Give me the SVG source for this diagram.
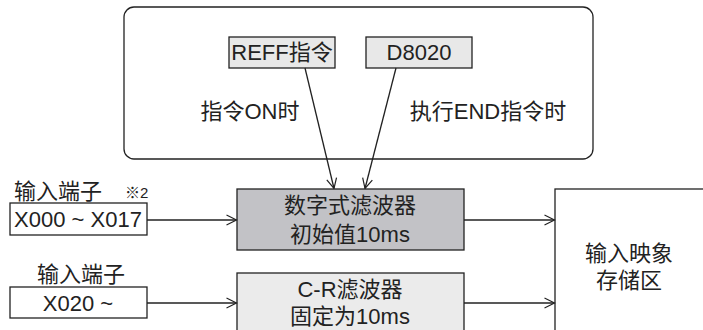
<svg xmlns="http://www.w3.org/2000/svg" width="703" height="330" viewBox="0 0 703 330">
<defs>
<marker id="arr" viewBox="0 0 12 12" refX="11" refY="6" markerWidth="12" markerHeight="12" markerUnits="userSpaceOnUse" orient="auto">
<path d="M1,1 L11,6 L1,11" fill="none" stroke="#222" stroke-width="1.2"/>
</marker>
<style>
.t{font-family:"Liberation Sans","Noto Sans CJK SC",sans-serif;font-size:22px;fill:#222;}
.s{font-family:"Liberation Sans","Noto Sans CJK SC",sans-serif;font-size:15px;fill:#222;}
.b{stroke:#222;stroke-width:1.3;}
.c{stroke:#222;stroke-width:1.3;fill:none;}
</style>
</defs>
<rect width="703" height="330" fill="#fff"/>
<g id="condition-panel">
<rect x="124" y="7" width="469" height="152" rx="10" fill="#fff" class="b"/>
<text class="t" x="250" y="119" text-anchor="middle">指令ON时</text>
<text class="t" x="488" y="119" text-anchor="middle">执行END指令时</text>
</g>
<g id="reff">
<rect x="229" y="37" width="106" height="31" fill="#e8e8e8" class="b"/>
<text class="t" x="282" y="60" text-anchor="middle">REFF指令</text>
</g>
<g id="d8020">
<rect x="366" y="37" width="106" height="31" fill="#e8e8e8" class="b"/>
<text class="t" x="419" y="60" text-anchor="middle">D8020</text>
</g>
<g id="label1">
<text class="t" x="14" y="199">输入端子</text>
<text class="s" x="125" y="198">※2</text>
</g>
<g id="x000">
<rect x="10" y="203" width="137" height="32" fill="#fff" class="b"/>
<text class="t" x="78" y="227" text-anchor="middle">X000 ~ X017</text>
</g>
<g id="label2">
<text class="t" x="37" y="282">输入端子</text>
</g>
<g id="x020">
<rect x="10" y="287" width="137" height="31" fill="#fff" class="b"/>
<text class="t" x="78" y="311" text-anchor="middle">X020 ~</text>
</g>
<g id="digital-filter">
<rect x="237" y="189" width="227" height="61" fill="#c2c2c6" class="b"/>
<text class="t" x="350" y="213" text-anchor="middle">数字式滤波器</text>
<text class="t" x="350" y="242" text-anchor="middle">初始值10ms</text>
</g>
<g id="cr-filter">
<rect x="237" y="273" width="227" height="70" fill="#ebebeb" class="b"/>
<text class="t" x="350" y="297" text-anchor="middle">C-R滤波器</text>
<text class="t" x="350" y="324" text-anchor="middle">固定为10ms</text>
</g>
<g id="image-memory">
<rect x="555" y="189" width="160" height="160" fill="#fff" class="b"/>
<text class="t" x="629" y="261" text-anchor="middle">输入映象</text>
<text class="t" x="629" y="288" text-anchor="middle">存储区</text>
</g>
<g id="connectors">
<line class="c" x1="305" y1="68" x2="334" y2="188.5" marker-end="url(#arr)"/>
<line class="c" x1="396" y1="68" x2="365" y2="188.5" marker-end="url(#arr)"/>
<line class="c" x1="147" y1="220" x2="236.5" y2="220" marker-end="url(#arr)"/>
<line class="c" x1="147" y1="303" x2="236.5" y2="303" marker-end="url(#arr)"/>
<line class="c" x1="464" y1="220" x2="554.5" y2="220" marker-end="url(#arr)"/>
<line class="c" x1="464" y1="303" x2="554.5" y2="303" marker-end="url(#arr)"/>
</g>
</svg>
